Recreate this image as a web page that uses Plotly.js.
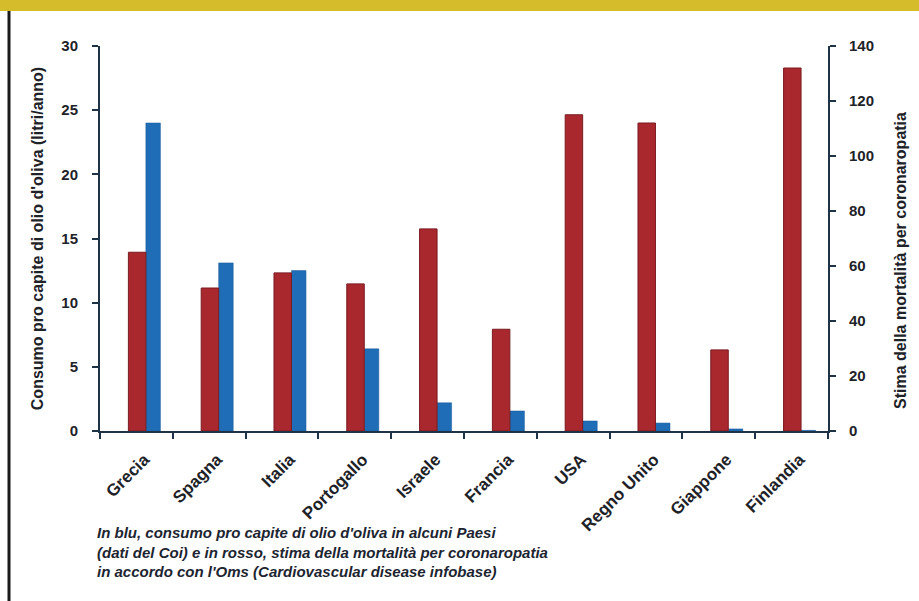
<!DOCTYPE html>
<html>
<head>
<meta charset="utf-8">
<script src="https://cdn.plot.ly/plotly-3.0.1.min.js"></script>
<style>html,body{margin:0;padding:0;background:#fff;}#chart{width:919px;height:601px;}</style>
</head>
<body>
<div id="chart"></div>
<script>
const paesi = ["Grecia","Spagna","Italia","Portogallo","Israele","Francia","USA","Regno Unito","Giappone","Finlandia"];
const consumoOlio = [24.0, 13.1, 12.5, 6.4, 2.2, 1.56, 0.78, 0.62, 0.16, 0.05];
const mortalita = [65, 52, 57.5, 53.5, 73.5, 37, 115, 112, 29.5, 132];
const ticksSinistra = [0,5,10,15,20,25,30];
const ticksDestra = [0,20,40,60,80,100,120,140];
const titoloSinistra = "Consumo pro capite di olio d'oliva (litri/anno)";
const titoloDestra = "Stima della mortalità per coronaropatia";
const didascalia = "In blu, consumo pro capite di olio d'oliva in alcuni Paesi<br>(dati del Coi) e in rosso, stima della mortalità per coronaropatia<br>in accordo con l'Oms (Cardiovascular disease infobase)";

const W = 919, H = 601, L = 100, R = 91, T = 46, B = 170;
const pw = W - L - R, ph = H - T - B;
const px = v => (v - L) / pw;
const py = v => (H - B - v) / ph;

const fontMain = "'Liberation Sans', Arial, sans-serif";
const axisColor = "#1f3347";
const textColor = "#1e2328";

const traces = [
  {
    type: "bar", x: paesi, y: mortalita, yaxis: "y2", name: "Mortalità",
    offset: -0.11, width: 0.24,
    marker: {color: "#a8282e", line: {color: "#7a1b20", width: 1}},
    hoverinfo: "x+y"
  },
  {
    type: "bar", x: paesi, y: consumoOlio, yaxis: "y", name: "Consumo olio",
    offset: 0.13, width: 0.2,
    marker: {color: "#1e6db6", line: {color: "#185a99", width: 0.5}},
    hoverinfo: "x+y"
  }
];

const layout = {
  width: W, height: H,
  margin: {l: L, r: R, t: T, b: B},
  paper_bgcolor: "#ffffff", plot_bgcolor: "#ffffff",
  showlegend: false,
  barmode: "overlay",
  font: {family: fontMain, color: textColor, size: 13},
  xaxis: {
    type: "category",
    tickson: "boundaries",
    ticks: "outside", ticklen: 6, tickwidth: 2, tickcolor: axisColor,
    showline: true, linecolor: axisColor, linewidth: 2,
    showgrid: false, zeroline: false,
    tickangle: -45,
    ticklabelstandoff: 10,
    ticklabelshift: 8,
    tickfont: {family: fontMain, size: 17, weight: "bold", color: textColor},
    range: [-0.5, 9.5]
  },
  yaxis: {
    range: [0, 30], tickvals: ticksSinistra,
    ticks: "outside", ticklen: 6, tickwidth: 2, tickcolor: axisColor,
    showline: true, linecolor: axisColor, linewidth: 2,
    showgrid: false, zeroline: false,
    ticklabelstandoff: 11,
    tickfont: {family: fontMain, size: 15, weight: "bold", color: textColor},
    title: {text: titoloSinistra, standoff: 14, font: {family: fontMain, size: 16, weight: "bold", color: textColor}}
  },
  yaxis2: {
    overlaying: "y", side: "right",
    range: [0, 140], tickvals: ticksDestra,
    ticks: "outside", ticklen: 6, tickwidth: 2, tickcolor: axisColor,
    showline: true, linecolor: axisColor, linewidth: 2,
    showgrid: false, zeroline: false,
    ticklabelstandoff: 10,
    tickfont: {family: fontMain, size: 15, weight: "bold", color: textColor}
  },
  shapes: [
    {type: "rect", xref: "paper", yref: "paper", x0: px(0), x1: px(W), y0: py(11), y1: py(0),
     fillcolor: "#d4bc2b", line: {width: 0}, layer: "above"},
    {type: "line", xref: "paper", yref: "paper", x0: px(9), x1: px(9), y0: py(11), y1: py(H),
     line: {color: "#1a1a1a", width: 3}, layer: "above"}
  ],
  annotations: [
    {xref: "paper", yref: "paper", x: px(900), y: py(261), xanchor: "center", yanchor: "middle",
     textangle: -90, showarrow: false, text: titoloDestra,
     font: {family: fontMain, size: 16, weight: "bold", color: textColor}},
    {xref: "paper", yref: "paper", x: px(95), y: py(522), xanchor: "left", yanchor: "top",
     align: "left", showarrow: false, text: didascalia,
     font: {family: fontMain, size: 15, weight: "bold", style: "italic", color: "#1c2530"}}
  ]
};

Plotly.newPlot("chart", traces, layout, {displayModeBar: false, staticPlot: true});
</script>
</body>
</html>
